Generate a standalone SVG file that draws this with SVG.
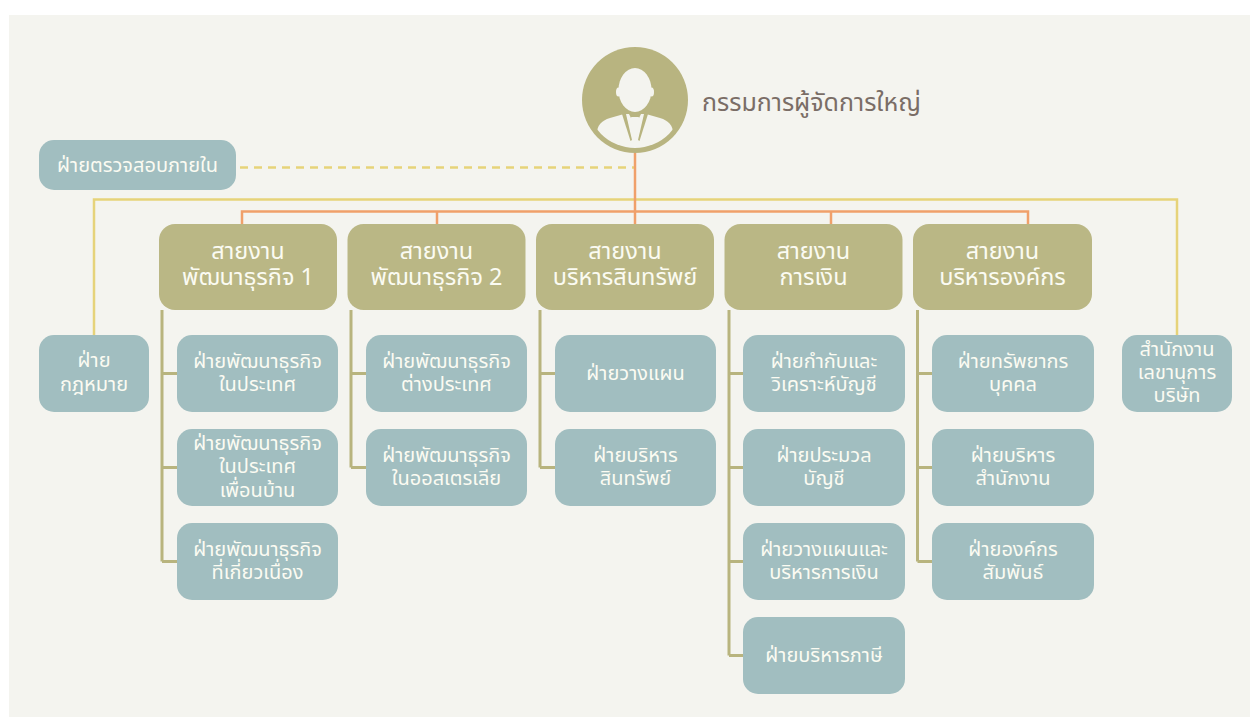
<svg xmlns="http://www.w3.org/2000/svg" width="1250" height="717" viewBox="0 0 1250 717">
<style>
text{font-family:"Noto Sans Thai","Noto Sans",sans-serif;fill:#fbfbf2;text-anchor:middle}
.leaf{fill:#a1bec0}
.head{fill:#bab785}
.lt{font-size:20px}
.ht{font-size:23.5px}
.olive{stroke:#b8b47e;stroke-width:3;fill:none}
.yel{stroke:#e6d37a;stroke-width:2.5;fill:none}
.ora{stroke:#f0a06a;stroke-width:2.5;fill:none}
</style>
<rect x="0" y="0" width="1250" height="717" fill="#ffffff"/>
<rect x="9" y="15" width="1241" height="702" fill="#f4f4ef"/>
<g id="connectors">
<line class="yel" x1="240" y1="167.5" x2="634" y2="167.5" stroke-dasharray="8,6"/>
<polyline class="yel" points="94,335 94,199.5 1177,199.5 1177,335"/>
<line class="ora" x1="635" y1="153" x2="635" y2="224"/>
<polyline class="ora" points="242,224 242,211.5 1028,211.5 1028,224"/>
<line class="ora" x1="437" y1="211.5" x2="437" y2="224"/>
<line class="ora" x1="831" y1="211.5" x2="831" y2="224"/>
<path class="olive" d="M162,310 V561.5 M162,373.5 H177 M162,467.5 H177 M162,561.5 H177"/>
<path class="olive" d="M351,310 V467.5 M351,373.5 H366 M351,467.5 H366"/>
<path class="olive" d="M540,310 V467.5 M540,373.5 H555 M540,467.5 H555"/>
<path class="olive" d="M729,310 V655.5 M729,373.5 H743 M729,467.5 H743 M729,561.5 H743 M729,655.5 H743"/>
<path class="olive" d="M917.5,310 V561.5 M917.5,373.5 H932 M917.5,467.5 H932 M917.5,561.5 H932"/>
</g>
<g id="ceo">
<defs><clipPath id="bodyclip"><circle cx="635" cy="100" r="48"/></clipPath></defs>
<circle cx="635" cy="100" r="53" fill="#b8b480"/>
<g fill="#f4f4ef">
<ellipse cx="635" cy="90" rx="16.5" ry="22"/>
<ellipse cx="618.5" cy="92" rx="2.5" ry="4.5"/>
<ellipse cx="651.5" cy="92" rx="2.5" ry="4.5"/>
<path clip-path="url(#bodyclip)" d="M597,160 V133 Q597,122 610,118 L624,114 H646 L660,118 Q673,122 673,133 V160 Z"/>
</g>
<g fill="#b8b480">
<polygon points="622,114 626,114 632,140 630.5,141"/>
<polygon points="648,114 644,114 638,140 639.5,141"/>
<polygon points="629,114 641,114 639,118 631,118"/>
</g>
<polygon points="631,117 639,117 638,120 632,120" fill="#f4f4ef"/>
<text x="702" y="111" style="font-size:25px;fill:#7a6d66;text-anchor:start">กรรมการผู้จัดการใหญ่</text>
</g>
<g id="audit">
<rect class="leaf" x="39" y="140" width="197" height="50" rx="15"/>
<text class="lt" x="137.5" y="172">ฝ่ายตรวจสอบภายใน</text>
</g>
<g id="legal">
<rect class="leaf" x="39" y="335" width="110" height="77" rx="15"/>
<text class="lt" x="94" y="367">ฝ่าย</text>
<text class="lt" x="94" y="391">กฎหมาย</text>
</g>
<g id="secretary">
<rect class="leaf" x="1122" y="335" width="110" height="77" rx="15"/>
<text class="lt" x="1177" y="356">สำนักงาน</text>
<text class="lt" x="1177" y="379">เลขานุการ</text>
<text class="lt" x="1177" y="402">บริษัท</text>
</g>
<g id="div1">
<rect class="head" x="159" y="224" width="178" height="86" rx="16"/>
<text class="ht" x="248" y="259">สายงาน</text>
<text class="ht" x="248" y="285">พัฒนาธุรกิจ 1</text>
</g>
<g id="div2">
<rect class="head" x="347.5" y="224" width="178" height="86" rx="16"/>
<text class="ht" x="436.5" y="259">สายงาน</text>
<text class="ht" x="436.5" y="285">พัฒนาธุรกิจ 2</text>
</g>
<g id="div3">
<rect class="head" x="536" y="224" width="178" height="86" rx="16"/>
<text class="ht" x="625" y="259">สายงาน</text>
<text class="ht" x="625" y="285">บริหารสินทรัพย์</text>
</g>
<g id="div4">
<rect class="head" x="724.5" y="224" width="178" height="86" rx="16"/>
<text class="ht" x="813.5" y="259">สายงาน</text>
<text class="ht" x="813.5" y="285">การเงิน</text>
</g>
<g id="div5">
<rect class="head" x="913" y="224" width="179" height="86" rx="16"/>
<text class="ht" x="1002.5" y="259">สายงาน</text>
<text class="ht" x="1002.5" y="285">บริหารองค์กร</text>
</g>
<g id="c1r1">
<rect class="leaf" x="177" y="335" width="161" height="77" rx="15"/>
<text class="lt" x="257.5" y="368">ฝ่ายพัฒนาธุรกิจ</text>
<text class="lt" x="257.5" y="391">ในประเทศ</text>
</g>
<g id="c1r2">
<rect class="leaf" x="177" y="429" width="161" height="77" rx="15"/>
<text class="lt" x="257.5" y="450">ฝ่ายพัฒนาธุรกิจ</text>
<text class="lt" x="257.5" y="473">ในประเทศ</text>
<text class="lt" x="257.5" y="497">เพื่อนบ้าน</text>
</g>
<g id="c1r3">
<rect class="leaf" x="177" y="523" width="161" height="77" rx="15"/>
<text class="lt" x="257.5" y="556">ฝ่ายพัฒนาธุรกิจ</text>
<text class="lt" x="257.5" y="579">ที่เกี่ยวเนื่อง</text>
</g>
<g id="c2r1">
<rect class="leaf" x="366" y="335" width="161" height="77" rx="15"/>
<text class="lt" x="446.5" y="368">ฝ่ายพัฒนาธุรกิจ</text>
<text class="lt" x="446.5" y="391">ต่างประเทศ</text>
</g>
<g id="c2r2">
<rect class="leaf" x="366" y="429" width="161" height="77" rx="15"/>
<text class="lt" x="446.5" y="462">ฝ่ายพัฒนาธุรกิจ</text>
<text class="lt" x="446.5" y="485">ในออสเตรเลีย</text>
</g>
<g id="c3r1">
<rect class="leaf" x="555" y="335" width="161" height="77" rx="15"/>
<text class="lt" x="635.5" y="380">ฝ่ายวางแผน</text>
</g>
<g id="c3r2">
<rect class="leaf" x="555" y="429" width="161" height="77" rx="15"/>
<text class="lt" x="635.5" y="462">ฝ่ายบริหาร</text>
<text class="lt" x="635.5" y="485">สินทรัพย์</text>
</g>
<g id="c4r1">
<rect class="leaf" x="743" y="335" width="162" height="77" rx="15"/>
<text class="lt" x="824" y="368">ฝ่ายกำกับและ</text>
<text class="lt" x="824" y="391">วิเคราะห์บัญชี</text>
</g>
<g id="c4r2">
<rect class="leaf" x="743" y="429" width="162" height="77" rx="15"/>
<text class="lt" x="824" y="462">ฝ่ายประมวล</text>
<text class="lt" x="824" y="485">บัญชี</text>
</g>
<g id="c4r3">
<rect class="leaf" x="743" y="523" width="162" height="77" rx="15"/>
<text class="lt" x="824" y="556">ฝ่ายวางแผนและ</text>
<text class="lt" x="824" y="579">บริหารการเงิน</text>
</g>
<g id="c4r4">
<rect class="leaf" x="743" y="617" width="162" height="77" rx="15"/>
<text class="lt" x="824" y="662">ฝ่ายบริหารภาษี</text>
</g>
<g id="c5r1">
<rect class="leaf" x="932" y="335" width="162" height="77" rx="15"/>
<text class="lt" x="1013" y="368">ฝ่ายทรัพยากร</text>
<text class="lt" x="1013" y="391">บุคคล</text>
</g>
<g id="c5r2">
<rect class="leaf" x="932" y="429" width="162" height="77" rx="15"/>
<text class="lt" x="1013" y="462">ฝ่ายบริหาร</text>
<text class="lt" x="1013" y="485">สำนักงาน</text>
</g>
<g id="c5r3">
<rect class="leaf" x="932" y="523" width="162" height="77" rx="15"/>
<text class="lt" x="1013" y="556">ฝ่ายองค์กร</text>
<text class="lt" x="1013" y="579">สัมพันธ์</text>
</g>
</svg>
